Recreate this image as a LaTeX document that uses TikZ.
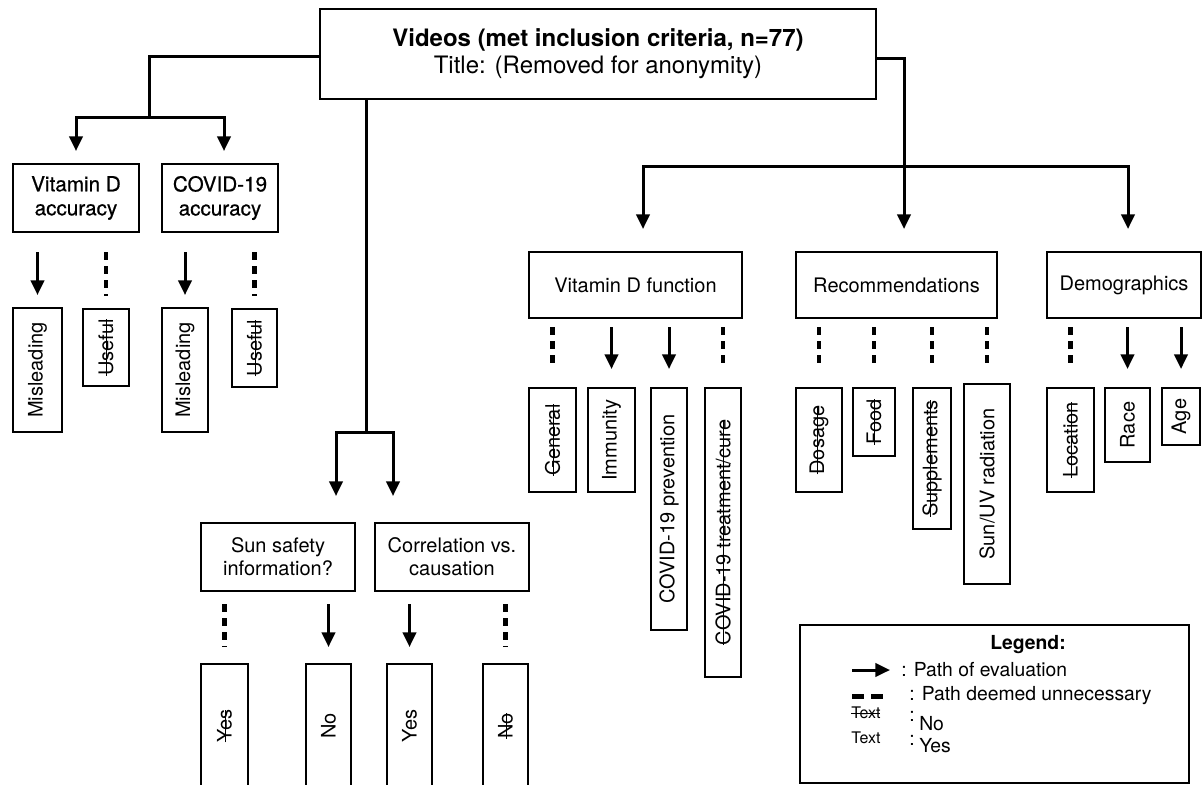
\documentclass[tikz,border=0pt]{standalone}
\usepackage{fontspec}
\setmainfont{TeX Gyre Heros}
\newfontfamily\medfont[FakeBold=0.6]{TeX Gyre Heros}
\usetikzlibrary{arrows.meta}
\newdimen\pxu \pxu=0.75pt
\newcommand{\xstrike}[1]{\leavevmode\setbox0\hbox{#1}\rlap{\rule[0.3em]{\wd0}{0.8pt}}\box0}
\begin{document}
\begin{tikzpicture}[x=0.75pt,y=-0.75pt,
  box/.style={draw, line width=1.5pt, inner sep=0pt, align=center, font=\fontsize{15}{17.5}\selectfont},
  vbox/.style={box, rotate=90},
  conn/.style={line width=2.25pt},
  arr/.style={conn, -{Triangle[width=10pt,length=11pt]}},
  dsh/.style={line width=3.5pt, dash pattern=on 6pt off 4.5pt},
  legtxt/.style={anchor=west, inner sep=0pt, font=\fontsize{14.5}{17}\selectfont},
  legsmall/.style={anchor=west, inner sep=0pt, font=\fontsize{12}{14}\selectfont},
]
\useasboundingbox (0,0) rectangle (1203,785);

% ---- top node
\node[box, font=\fontsize{18}{20}\selectfont, minimum width=556\pxu, minimum height=90\pxu] (top) at (598,54)
  {\textbf{Videos (met inclusion criteria, n=77)}\\Title: (Removed for anonymity)};

% ---- left branch
\node[box, font=\medfont\fontsize{15.5}{18}\selectfont, minimum width=126\pxu, minimum height=68\pxu] (vda) at (76,198) {Vitamin D\\accuracy};
\node[box, font=\medfont\fontsize{15.5}{18}\selectfont, minimum width=116\pxu, minimum height=68\pxu] (cva) at (220,198) {COVID-19\\accuracy};

\node[vbox, minimum width=124\pxu, minimum height=49\pxu] (mis1) at (37.5,370) {Misleading};
\node[vbox, minimum width=77\pxu, minimum height=46\pxu] (use1) at (106,347.5) {\xstrike{Useful}};
\node[vbox, minimum width=124\pxu, minimum height=46\pxu] (mis2) at (185,370) {Misleading};
\node[vbox, minimum width=78\pxu, minimum height=45\pxu] (use2) at (254.5,348) {\xstrike{Useful}};

\coordinate (lj) at (149,117);
\draw[conn] ([yshift=-2\pxu]top.west) -| (lj);
\draw[arr, shorten >=12\pxu] (lj) -| (vda.north);
\draw[arr, shorten >=12\pxu] (lj) -| ([xshift=4\pxu]cva.north);

\draw[arr, shorten <=19\pxu, shorten >=12\pxu] (vda.south -| mis1.east) -- (mis1.east);
\draw[dsh, shorten <=19\pxu, shorten >=12\pxu] (vda.south -| use1.east) -- (use1.east);
\draw[arr, shorten <=19\pxu, shorten >=12\pxu] (cva.south -| mis2.east) -- (mis2.east);
\draw[dsh, shorten <=19\pxu, shorten >=12\pxu] (cva.south -| use2.east) -- (use2.east);

% ---- middle branch
\node[box, minimum width=154\pxu, minimum height=68\pxu] (ss) at (278,557) {Sun safety\\information?};
\node[box, minimum width=154\pxu, minimum height=68\pxu] (cs) at (452,557) {Correlation vs.\\causation};

\coordinate (mj) at (366,432);
\draw[conn] (top.south -| mj) -- (mj);
\draw[arr, shorten >=26\pxu] (mj) -| ([xshift=58\pxu]ss.north);
\draw[arr, shorten >=26\pxu] (mj) -| ([xshift=-59\pxu]cs.north);

\node[vbox, minimum width=124\pxu, minimum height=47\pxu] (yes1) at (224.5,726) {\xstrike{Yes}};
\node[vbox, minimum width=124\pxu, minimum height=45\pxu] (no1) at (328.5,726) {No};
\node[vbox, minimum width=124\pxu, minimum height=45\pxu] (yes2) at (409.5,726) {Yes};
\node[vbox, minimum width=124\pxu, minimum height=45\pxu] (no2) at (505.5,726) {\xstrike{No}};

\draw[dsh, shorten <=12\pxu, shorten >=16\pxu] (ss.south -| yes1.east) -- (yes1.east);
\draw[arr, shorten <=12\pxu, shorten >=16\pxu] (ss.south -| no1.east) -- (no1.east);
\draw[arr, shorten <=12\pxu, shorten >=16\pxu] (cs.south -| yes2.east) -- (yes2.east);
\draw[dsh, shorten <=12\pxu, shorten >=16\pxu] (cs.south -| no2.east) -- (no2.east);

% ---- right branch
\node[box, minimum width=213\pxu, minimum height=66\pxu] (vdf) at (635.5,285) {Vitamin D function};
\node[box, minimum width=201\pxu, minimum height=66\pxu] (rec) at (896.5,285) {Recommendations};
\node[box, minimum width=154\pxu, minimum height=66\pxu] (dem) at (1124,285) {Demographics};

\coordinate (rj) at (904,166);
\draw[arr, shorten >=22\pxu] ([yshift=-4\pxu]top.east) -| ([xshift=7.5\pxu]rec.north);
\draw[arr, shorten >=22\pxu] (rj) -| ([xshift=7.5\pxu]vdf.north);
\draw[arr, shorten >=22\pxu] (rj) -| ([xshift=4\pxu]dem.north);

\node[vbox, minimum width=104\pxu, minimum height=47\pxu] (gen) at (552.5,440) {\xstrike{General}};
\node[vbox, minimum width=104\pxu, minimum height=47\pxu] (imm) at (611.5,440) {Immunity};
\node[vbox, minimum width=242\pxu, minimum height=36\pxu] (cvp) at (669,509) {COVID-19 prevention};
\node[vbox, minimum width=289\pxu, minimum height=36\pxu] (cvt) at (723,532.5) {\xstrike{COVID-19 treatment/cure}};

\node[vbox, minimum width=104\pxu, minimum height=46\pxu] (dos) at (819,440) {\xstrike{Dosage}};
\node[vbox, minimum width=68\pxu, minimum height=42\pxu] (food) at (874,422) {\xstrike{Food}};
\node[vbox, minimum width=141\pxu, minimum height=38\pxu] (sup) at (932,458.5) {\xstrike{Supplements}};
\node[vbox, minimum width=200\pxu, minimum height=46\pxu] (sun) at (987,484) {Sun/UV radiation};

\node[vbox, minimum width=104\pxu, minimum height=47\pxu] (loc) at (1070.5,440) {\xstrike{Location}};
\node[vbox, minimum width=74\pxu, minimum height=45\pxu] (race) at (1127.5,425) {Race};
\node[vbox, minimum width=57\pxu, minimum height=38\pxu] (age) at (1181,416.5) {Age};

\draw[dsh, shorten <=8\pxu, shorten >=18\pxu] (vdf.south -| gen.east) -- (gen.east);
\draw[arr, shorten <=8\pxu, shorten >=18\pxu] (vdf.south -| imm.east) -- (imm.east);
\draw[arr, shorten <=8\pxu, shorten >=18\pxu] (vdf.south -| cvp.east) -- (cvp.east);
\draw[dsh, shorten <=8\pxu, shorten >=18\pxu] (vdf.south -| cvt.east) -- (cvt.east);
\draw[dsh, shorten <=8\pxu, shorten >=18\pxu] (rec.south -| dos.east) -- (dos.east);
\draw[dsh, shorten <=8\pxu, shorten >=18\pxu] (rec.south -| food.east) -- (food.east);
\draw[dsh, shorten <=8\pxu, shorten >=18\pxu] (rec.south -| sup.east) -- (sup.east);
\draw[dsh, shorten <=8\pxu, shorten >=14\pxu] (rec.south -| sun.east) -- (sun.east);
\draw[dsh, shorten <=8\pxu, shorten >=18\pxu] (dem.south -| loc.east) -- (loc.east);
\draw[arr, shorten <=8\pxu, shorten >=18\pxu] (dem.south -| race.east) -- (race.east);
\draw[arr, shorten <=8\pxu, shorten >=18\pxu] (dem.south -| age.east) -- (age.east);

% ---- legend
\node[draw, line width=1.5pt, inner sep=0pt, minimum width=389\pxu, minimum height=158\pxu] (leg) at (994.5,704) {};
\node[inner sep=0pt, font=\fontsize{14.5}{17}\selectfont\bfseries] (legt) at (1028,645) {Legend:};
\coordinate (la1) at (852,670);
\coordinate (la2) at (890,670);
\draw[arr] (la1) -- (la2);
\node[legtxt] (l1) at (901,670) {: Path of evaluation};
\coordinate (ld1) at (852,696);
\coordinate (ld2) at (890,696);
\draw[line width=3.75pt, dash pattern=on 9pt off 5.5pt] (ld1) -- (ld2);
\node[legtxt] (l2) at (909,696) {: Path deemed unnecessary};
\node[legsmall] (l3) at (851,713) {\xstrike{Text}};
\node[legtxt] (l3c) at (909,716) {:};
\node[legtxt] (l3n) at (919,724) {No};
\node[legsmall] (l4) at (851,738) {Text};
\node[legtxt] (l4c) at (909,740) {:};
\node[legtxt] (l4y) at (919,746) {Yes};
\end{tikzpicture}
\end{document}
